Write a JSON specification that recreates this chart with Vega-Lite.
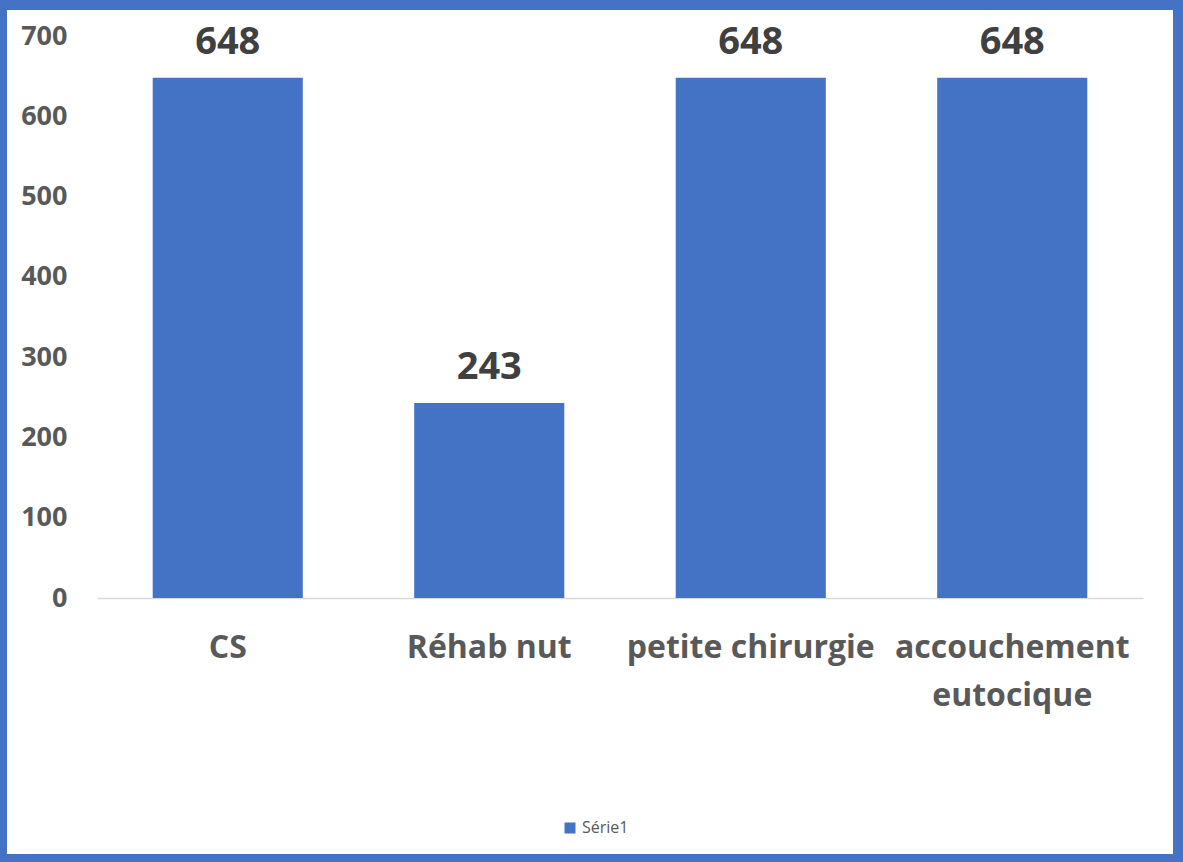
{
  "$schema": "https://vega.github.io/schema/vega-lite/v6.json",
  "autosize": {"type": "none"},
  "padding": {"left": 7, "top": 10, "right": 10, "bottom": 8},
  "width": 1166,
  "height": 844,
  "background": "#4472C4",
  "config": {
    "view": {"stroke": null, "fill": "white"},
    "font": "Open Sans"
  },
  "data": {
    "values": [
      {"categorie": "CS", "valeur": 648, "serie": "Série1"},
      {"categorie": "Réhab nut", "valeur": 243, "serie": "Série1"},
      {"categorie": "petite chirurgie", "valeur": 648, "serie": "Série1"},
      {"categorie": "accouchement eutocique", "valeur": 648, "serie": "Série1"}
    ]
  },
  "encoding": {
    "x": {
      "field": "categorie",
      "type": "nominal",
      "sort": null,
      "scale": {"range": [90, 1136], "paddingInner": 0.426, "paddingOuter": 0.213},
      "axis": {
        "title": null,
        "orient": "bottom",
        "offset": -256,
        "domainColor": "#d9d9d9",
        "domainWidth": 1.5,
        "ticks": false,
        "tickSize": 0,
        "labelPadding": 59,
        "labelBaseline": "alphabetic",
        "labelAngle": 0,
        "labelFont": "Open Sans",
        "labelFontSize": 32,
        "labelFontWeight": "bold",
        "labelColor": "#595959",
        "labelLimit": 0,
        "labelOverlap": false,
        "labelBound": false,
        "labelLineHeight": 48,
        "labelExpr": "datum.value == 'accouchement eutocique' ? ['accouchement', 'eutocique'] : datum.label"
      }
    },
    "y": {
      "field": "valeur",
      "type": "quantitative",
      "scale": {"domain": [0, 700], "range": [588, 26], "nice": false},
      "axis": {
        "title": null,
        "orient": "left",
        "offset": -62,
        "values": [0, 100, 200, 300, 400, 500, 600, 700],
        "domain": false,
        "ticks": false,
        "tickSize": 0,
        "grid": false,
        "labelPadding": 2,
        "labelFont": "Open Sans",
        "labelFontSize": 27,
        "labelFontWeight": "bold",
        "labelColor": "#595959"
      }
    }
  },
  "layer": [
    {
      "mark": {"type": "bar"},
      "encoding": {
        "color": {
          "field": "serie",
          "type": "nominal",
          "scale": {"range": ["#4472C4"]},
          "legend": {
            "title": null,
            "orient": "none",
            "legendX": 555,
            "legendY": 810,
            "padding": 0,
            "symbolType": "square",
            "symbolSize": 121,
            "symbolStrokeWidth": 0,
            "labelOffset": 4,
            "labelFont": "Open Sans",
            "labelFontSize": 16,
            "labelColor": "#595959"
          }
        }
      }
    },
    {
      "mark": {
        "type": "text",
        "baseline": "alphabetic",
        "align": "center",
        "dy": -24,
        "font": "Open Sans",
        "fontSize": 38,
        "fontWeight": "bold",
        "color": "#404040"
      },
      "encoding": {
        "text": {"field": "valeur", "type": "quantitative"}
      }
    }
  ]
}
